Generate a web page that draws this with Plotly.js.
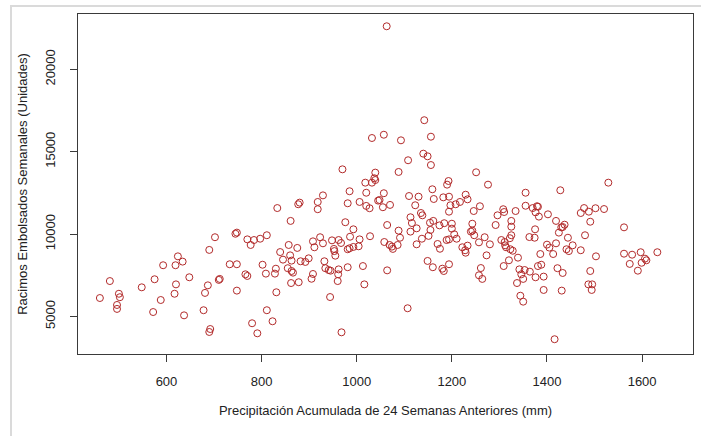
<!DOCTYPE html>
<html>
<head>
<meta charset="utf-8">
<script src="https://cdn.plot.ly/plotly-3.0.1.min.js"></script>
<style>
  html, body { margin: 0; padding: 0; background: #ffffff; }
  #frame {
    position: absolute; left: 10px; top: 5px; width: 720px; height: 460px;
    border-top: 2px solid #dadada; border-left: 2px solid #dadada;
  }
  #chart { position: absolute; left: 0; top: 0; width: 701px; height: 436px; }
</style>
</head>
<body>
<div id="frame"></div>
<div id="chart"></div>
<script>
// Accumulated rainfall over the previous 24 weeks (mm)
const precipitacion = [
  702, 690, 624, 634, 593, 619, 733, 481, 575, 648, 710, 712, 548, 620, 687, 500,
  502, 460, 617, 681, 588, 496, 496, 572, 637, 678, 692, 690,
  1018, 1032, 1039, 985, 1020, 929, 1048, 1045, 880, 877, 918, 981, 1006, 1020, 1027, 833,
  918, 861, 976, 993, 748, 745, 811, 986, 1028, 770, 784, 797, 777, 923, 948, 962,
  967, 1006, 908, 929, 857, 911, 875, 952, 953, 981, 985, 993, 1004, 839, 860, 955,
  899, 845, 863, 882, 892, 932, 748, 802, 830, 855, 863, 866, 934, 941, 945, 962,
  981, 1013, 766, 770, 809, 828, 908, 961, 905, 862, 878, 960, 1016, 748, 831, 944,
  811, 823, 780, 791, 968,
  1032, 970, 1039, 1037,
  1063, 1142, 1057, 1093, 1156, 1140, 1149, 1108, 1156, 1088, 1251,
  1190, 1193, 1276, 1057, 1055, 1070, 1110, 1130, 1159, 1162, 1182, 1194, 1229, 1233, 1217,
  1208, 1197, 1123, 1194, 1246, 1259, 1296, 1308, 1310, 1334, 1355, 1355, 1135, 1138, 1113,
  1116, 1064, 1154, 1161, 1174, 1184, 1200, 1200, 1243, 1292, 1325, 1325, 1088, 1113, 1126,
  1155, 1240, 1243, 1247, 1325, 1205, 1091, 1137, 1151, 1189, 1194, 1210, 1269, 1257, 1280,
  1304, 1322, 1058, 1069, 1074, 1076, 1086, 1126, 1170, 1175, 1222, 1228, 1229, 1233, 1311,
  1312, 1314, 1323, 1328, 1273, 1339, 1320, 1149, 1194, 1160, 1180, 1183, 1261, 1309, 1064,
  1257, 1264, 1342, 1346, 1350, 1353, 1337, 1344, 1350, 1107,
  1529, 1428, 1370, 1379, 1381, 1376, 1383, 1402, 1478, 1471, 1488, 1502, 1520, 1419, 1491,
  1430, 1437, 1433, 1375, 1425, 1562, 1363, 1374, 1444, 1480, 1400, 1405, 1419, 1454, 1441,
  1446, 1471, 1386, 1413, 1503, 1562, 1579, 1597, 1632, 1606, 1609, 1599, 1574, 1591, 1381,
  1388, 1422, 1433, 1491, 1364, 1376, 1393, 1487, 1495, 1494, 1393, 1431, 1416
];

// Weekly bagged banana bunches (units)
const racimos = [
  9810, 9040, 8650, 8330, 8110, 8110, 8170, 7150, 7260, 7380, 7220, 7280, 6770, 6950, 6890, 6380,
  6170, 6120, 6380, 6430, 6000, 5700, 5460, 5270, 5070, 5380, 4240, 4060,
  13120, 13120, 13280, 12600, 12510, 12350, 12070, 12030, 11910, 11810, 11950, 11870, 11950, 11710, 11570, 11580,
  11510, 10800, 10720, 10290, 10090, 10020, 9930, 9840, 9870, 9680, 9640, 9720, 9340, 9810, 9620, 9640,
  9460, 9680, 9560, 9440, 9340, 9200, 9160, 9100, 8970, 9080, 9140, 9220, 9260, 8910, 8710, 8690,
  8530, 8450, 8390, 8350, 8310, 8350, 8170, 8140, 7900, 7930, 7760, 7660, 7930, 7820, 7780, 7860,
  7990, 8060, 7560, 7460, 7600, 7600, 7580, 7560, 7290, 7030, 7080, 7150, 6950, 6570, 6470, 6180,
  5380, 4710, 4590, 3980, 4040,
  15830, 13930, 13730, 13390,
  22610, 16910, 16030, 15690, 15910, 14880, 14720, 14480, 14190, 13770, 13750,
  13000, 13220, 13000, 12480, 11630, 11770, 12310, 12270, 12720, 12130, 12230, 12270, 12390, 12110, 11950,
  11810, 11750, 11750, 11360, 11400, 11690, 11140, 11510, 11340, 11400, 11720, 12510, 11280, 11140, 11020,
  10670, 10550, 10690, 10800, 10530, 10660, 10630, 10330, 10630, 10550, 10800, 10450, 10210, 10150, 10350,
  10250, 10150, 10210, 9930, 9930, 9990, 9780, 9720, 9890, 9640, 9680, 9720, 9810, 9500, 9380,
  9640, 9750, 9520, 9340, 9240, 9100, 9340, 9380, 9400, 9110, 9200, 9020, 8870, 9300, 9520,
  9320, 9200, 9080, 8990, 8710, 8570, 8410, 8370, 8170, 7990, 7900, 7760, 7940, 8060, 7800,
  7500, 7280, 7860, 7560, 7280, 7820, 7030, 6260, 5900, 5500,
  13120, 12660, 11580, 11690, 11660, 11320, 11060, 11200, 11580, 11280, 11360, 11570, 11520, 10800, 10750,
  10410, 10570, 10430, 10290, 10090, 10410, 9820, 9780, 9780, 9930, 9360, 9180, 9440, 9320, 9080,
  8970, 9020, 8790, 8790, 8650, 8810, 8750, 8900, 8900, 8510, 8410, 8260, 8190, 7780, 8060,
  8140, 7930, 7640, 7760, 7720, 7380, 7420, 6950, 6950, 6610, 6610, 6570, 3620
];

const xTicks = [600, 800, 1000, 1200, 1400, 1600];
const yTicks = [5000, 10000, 15000, 20000];

const tituloX = 'Precipitación Acumulada de 24 Semanas Anteriores (mm)';
const tituloY = 'Racimos Embolsados Semanales (Unidades)';

const puntos = {
  type: 'scatter',
  mode: 'markers',
  x: precipitacion,
  y: racimos,
  marker: {
    symbol: 'circle-open',
    size: 7,
    color: '#b22a2a',
    line: { width: 1, color: '#b22a2a' }
  },
  hoverinfo: 'skip'
};

const ejeComun = {
  showgrid: false,
  zeroline: false,
  showline: true,
  mirror: true,
  linecolor: '#3a3a3a',
  linewidth: 1,
  ticks: 'outside',
  ticklen: 7,
  tickwidth: 1,
  tickcolor: '#3a3a3a',
  tickfont: { family: 'Liberation Sans, Arial, sans-serif', size: 13, color: '#222' },
  automargin: false
};

const layout = {
  width: 701,
  height: 436,
  margin: { l: 78, r: 8, t: 14, b: 82 },
  paper_bgcolor: 'rgba(0,0,0,0)',
  plot_bgcolor: '#ffffff',
  showlegend: false,
  xaxis: Object.assign({}, ejeComun, {
    range: [414, 1707],
    tickmode: 'array',
    tickvals: xTicks,
    ticktext: xTicks.map(String),
    ticklabelstandoff: 8,
    title: {
      text: tituloX,
      standoff: 18,
      font: { family: 'Liberation Sans, Arial, sans-serif', size: 13, color: '#222' }
    }
  }),
  yaxis: Object.assign({}, ejeComun, {
    range: [2724, 23355],
    tickmode: 'array',
    tickvals: yTicks,
    ticktext: yTicks.map(String),
    tickangle: -90,
    ticklabelstandoff: 10,
    title: {
      text: tituloY,
      standoff: 12,
      font: { family: 'Liberation Sans, Arial, sans-serif', size: 13, color: '#222' }
    }
  })
};

Plotly.newPlot('chart', [puntos], layout, { displayModeBar: false, staticPlot: true });
</script>
</body>
</html>
